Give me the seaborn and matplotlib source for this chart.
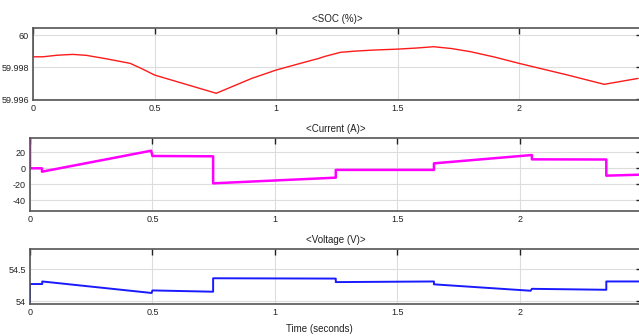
import matplotlib
matplotlib.use("Agg")
import matplotlib.pyplot as plt
import seaborn as sns
import pandas as pd

sns.set_style("white")
plt.rcParams['font.family'] = ['Liberation Sans Narrow', 'Liberation Sans', 'DejaVu Sans']

# ---- data ----
soc_t = [0.0, 0.0, 0.041, 0.10, 0.164, 0.22, 0.30, 0.40, 0.45, 0.50, 0.754, 0.90, 1.00,
         1.10, 1.176, 1.20, 1.265, 1.33, 1.40, 1.50, 1.58, 1.648, 1.72, 1.80, 1.90,
         2.00, 2.20, 2.35, 2.49]
soc_v = [60.0, 59.99864, 59.99864, 59.99874, 59.99879, 59.99873, 59.99852, 59.99823,
         59.99788, 59.99750, 59.99636, 59.99729, 59.99781, 59.99823, 59.99854, 59.99866,
         59.99892, 59.99900, 59.99906, 59.99912, 59.99919, 59.99927, 59.99916, 59.99896,
         59.99862, 59.99823, 59.99750, 59.99692, 59.99729]

cur_t = [0.0, 0.0, 0.049, 0.049, 0.495, 0.50, 0.748, 0.748, 1.249, 1.249,
         1.65, 1.65, 2.05, 2.05, 2.354, 2.354, 2.49]
cur_v = [38, 0, 0, -4.2, 22.0, 15.4, 15.0, -18.8, -11.7, -2.0,
         -2.0, 6.2, 16.6, 11.2, 11.0, -9.2, -8.0]

vol_t = [0.0, 0.0, 0.05, 0.05, 0.497, 0.50, 0.748, 0.748, 1.249, 1.249,
         1.65, 1.65, 2.045, 2.05, 2.354, 2.354, 2.49]
vol_v = [53.99, 54.27, 54.27, 54.31, 54.13, 54.17, 54.15, 54.36, 54.355, 54.30,
         54.31, 54.265, 54.165, 54.195, 54.18, 54.31, 54.31]

soc_ticks = [59.996, 59.998, 60.0]
soc_labels = ["59.996", "59.998", "60"]
cur_ticks = [-40, -20, 0, 20]
vol_ticks = [54.0, 54.5]
vol_labels = ["54", "54.5"]
x_ticks = [0, 0.5, 1, 1.5, 2]
x_labels = ["0", "0.5", "1", "1.5", "2"]

titles = ["<SOC (%)>", "<Current (A)>", "<Voltage (V)>"]

fig = plt.figure(figsize=(6.39, 3.36), dpi=100)
W, H = 639.0, 336.0

def make_ax(left_px, top_px, bottom_px):
    return fig.add_axes([left_px / W, 1 - bottom_px / H, 1.004 - left_px / W, (bottom_px - top_px) / H])

ax1 = make_ax(33, 28, 100)
ax2 = make_ax(30, 138, 211)
ax3 = make_ax(30, 249, 304)

df1 = pd.DataFrame({"t": soc_t, "v": soc_v})
df2 = pd.DataFrame({"t": cur_t, "v": cur_v})
df3 = pd.DataFrame({"t": vol_t, "v": vol_v})

sns.lineplot(data=df1, x="t", y="v", ax=ax1, color="#ff1a1a", lw=1.0, sort=False, estimator=None)
sns.lineplot(data=df2, x="t", y="v", ax=ax2, color="#ff00ff", lw=1.8, sort=False, estimator=None)
sns.lineplot(data=df3, x="t", y="v", ax=ax3, color="#1a1aff", lw=1.4, sort=False, estimator=None)

ax1.set_ylim(59.99594, 60.00044)
ax2.set_ylim(-53.4, 37.9)
ax3.set_ylim(53.958, 54.817)
ax1.set_xlim(0, 2.504)
ax2.set_xlim(0, 2.498)
ax3.set_xlim(0, 2.498)

ax1.set_yticks(soc_ticks)
ax1.set_yticklabels(soc_labels)
ax2.set_yticks(cur_ticks)
ax2.set_yticklabels([str(v) for v in cur_ticks])
ax3.set_yticks(vol_ticks)
ax3.set_yticklabels(vol_labels)

for ax, title in zip([ax1, ax2, ax3], titles):
    ax.set_xticks(x_ticks)
    ax.set_xticklabels(x_labels)
    ax.set_xlabel("")
    ax.set_ylabel("")
    ax.set_title(title, fontsize=7, pad=4, color="#222222")
    ax.grid(True, color="#dddddd", lw=0.8)
    ax.tick_params(axis="both", which="both", direction="in", length=4, width=1.0,
                   labelsize=6.5, colors="#222222", top=True, right=True, pad=3)
    for sp in ax.spines.values():
        sp.set_visible(True)
        sp.set_color("#555555")
        sp.set_linewidth(1.2)

fig.text(0.5, 1 - 329 / H, "Time (seconds)", ha="center", va="center", fontsize=7, color="#222222")

fig.savefig("out.png", dpi=100)
